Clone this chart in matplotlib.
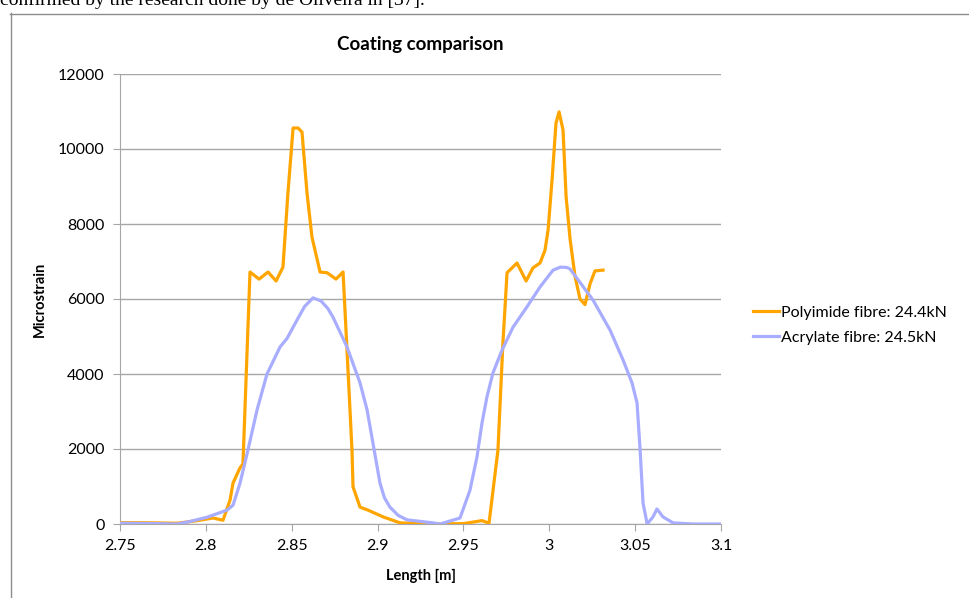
import numpy as np
import matplotlib
matplotlib.use('Agg')
import matplotlib.pyplot as plt
from matplotlib.lines import Line2D

# polyimide fibre, 24.4kN
poly_x = [2.75, 2.76, 2.77, 2.7832, 2.795, 2.8042, 2.81, 2.8141, 2.8158, 2.8199, 2.8216,
          2.8257, 2.831, 2.8362, 2.8409, 2.8449, 2.8478, 2.8508, 2.8537, 2.856, 2.8589,
          2.8618, 2.8665, 2.8706, 2.8758, 2.8799, 2.8822, 2.8851, 2.8857, 2.8898, 2.8944,
          2.9032, 2.9131, 2.93, 2.95, 2.9608, 2.9649, 2.9701, 2.973, 2.9754, 2.9812,
          2.9865, 2.9905, 2.9946, 2.9975, 2.9993, 3.0016, 3.0039, 3.0057, 3.008, 3.0098,
          3.0121, 3.015, 3.0179, 3.0208, 3.0237, 3.0266, 3.0313]
poly_y = [35, 35, 30, 20, 90, 160, 100, 640, 1090, 1500, 1600,
          6720, 6530, 6720, 6480, 6850, 8830, 10560, 10560, 10450, 8830,
          7650, 6720, 6700, 6530, 6720, 4640, 1970, 990, 450, 370,
          190, 30, 0, 10, 90, 20, 1970, 4830, 6700, 6960,
          6480, 6830, 6960, 7300, 7840, 9170, 10690, 10990, 10510, 8720,
          7600, 6600, 6000, 5850, 6400, 6750, 6770]

# acrylate fibre, 24.5kN
acr_x = [2.75, 2.765, 2.7832, 2.79, 2.8007, 2.8123, 2.8158, 2.8199, 2.8245, 2.8298,
         2.8356, 2.8432, 2.8473, 2.8531, 2.8575, 2.8624, 2.867, 2.871, 2.874, 2.8822,
         2.8898, 2.8939, 2.8973, 2.9014, 2.904, 2.9072, 2.912, 2.9172, 2.9323, 2.9364,
         2.948, 2.9538, 2.9579, 2.9608, 2.9637, 2.9672, 2.9725, 2.9789, 2.987, 2.9946,
         3.0022, 3.0065, 3.0103, 3.0121, 3.0255, 3.0354, 3.043, 3.0482, 3.0511, 3.0529,
         3.0546, 3.057, 3.0604, 3.0627, 3.0662, 3.0721, 3.0837, 3.1]
acr_y = [20, 15, 0, 60, 180, 370, 500, 1090, 1970, 3040,
         4000, 4720, 4950, 5440, 5800, 6030, 5950, 5750, 5520, 4720,
         3760, 3040, 2160, 1090, 700, 450, 230, 110, 30, 0,
         160, 900, 1790, 2690, 3390, 4030, 4640, 5250, 5790, 6320,
         6770, 6850, 6840, 6800, 5970, 5170, 4370, 3760, 3230, 1970,
         560, 0, 190, 400, 190, 30, 0, 0]

series_names = ['Polyimide fibre: 24.4kN', 'Acrylate fibre: 24.5kN']
x_ticks = [2.75, 2.8, 2.85, 2.9, 2.95, 3.0, 3.05, 3.1]
x_labels = ['2.75', '2.8', '2.85', '2.9', '2.95', '3', '3.05', '3.1']
y_ticks = [0, 2000, 4000, 6000, 8000, 10000, 12000]

W, H = 969, 598
fig = plt.figure(figsize=(W / 100, H / 100), dpi=100)
plt.rcParams['font.family'] = ['Lato', 'DejaVu Sans']

# cut-off text line above the chart (as in the source page)
fig.text(0.0, 1 - 5 / H, 'confirmed by the research done by de Oliveira in [37].',
         family='Liberation Serif', fontsize=14, va='baseline', ha='left')

# chart frame
fig.add_artist(Line2D([10.5 / W, 10.5 / W], [0, 1 - 13 / H], color='#8c8c8c', lw=1,
                      transform=fig.transFigure))
fig.add_artist(Line2D([10 / W, 1], [1 - 13.5 / H, 1 - 13.5 / H], color='#8c8c8c', lw=1,
                      transform=fig.transFigure))

ax = fig.add_axes([120 / W, (H - 524) / H, 601 / W, 450 / H])
ax.plot(poly_x, poly_y, color='#FFA500', lw=2.3, solid_joinstyle='round',
        label=series_names[0], zorder=3)
ax.plot(acr_x, acr_y, color='#A8ADFF', lw=2.3, solid_joinstyle='round',
        label=series_names[1], zorder=3)

ax.set_xlim(2.75, 3.1)
ax.set_ylim(0, 12000)
ax.set_xticks(x_ticks)
ax.set_xticklabels(x_labels)
ax.set_yticks(y_ticks)
ax.set_yticklabels([str(v) for v in y_ticks])
ax.yaxis.grid(True, color='#a6a6a6', lw=1)
ax.set_axisbelow(True)
for s in ['top', 'right']:
    ax.spines[s].set_visible(False)
for s in ['left', 'bottom']:
    ax.spines[s].set_color('#a6a6a6')
ax.tick_params(axis='x', colors='#a6a6a6', length=5, labelcolor='black', labelsize=11.5, pad=6)
ax.tick_params(axis='y', colors='#a6a6a6', length=5, labelcolor='black', labelsize=11.5, pad=6)

ax.set_title('Coating comparison', fontsize=13.5, fontweight='bold', pad=17)
ax.set_xlabel('Length [m]', fontsize=10.5, fontweight='bold', labelpad=11)
ax.set_ylabel('Microstrain', fontsize=10.5, fontweight='bold', labelpad=8)

ax.legend(loc='center left', bbox_to_anchor=(1.03, 0.442), frameon=False, fontsize=11.5,
          handlelength=1.6, handletextpad=0.1, labelspacing=0.7)

fig.savefig('out.png', dpi=100)
